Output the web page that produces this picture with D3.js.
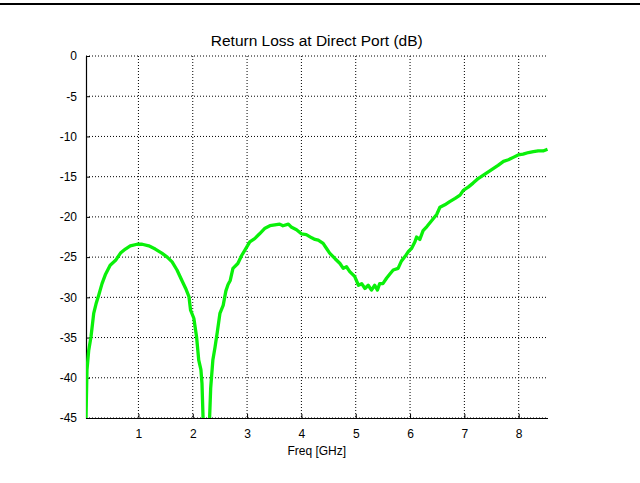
<!DOCTYPE html>
<html>
<head>
<meta charset="utf-8">
<script src="https://cdn.jsdelivr.net/npm/d3@7"></script>
<style>
  html, body { margin: 0; padding: 0; background: #fff; }
  svg { display: block; font-family: "Liberation Sans", Arial, sans-serif; }
</style>
</head>
<body>
<div id="chart"></div>
<script>
var freqGHz = [0.035, 0.053, 0.085, 0.127, 0.177, 0.22, 0.27, 0.33, 0.39, 0.48, 0.58, 0.67, 0.76, 0.85, 0.975,
  1.07, 1.19, 1.31, 1.43, 1.53, 1.62, 1.71, 1.80, 1.87, 1.93, 1.96, 2.02, 2.07, 2.11, 2.15, 2.17, 2.19,
  2.195, 2.25, 2.305,
  2.31, 2.33, 2.37, 2.41, 2.45, 2.50, 2.56, 2.61, 2.65, 2.69, 2.74, 2.83, 2.90, 2.99,
  3.05, 3.14, 3.23, 3.33, 3.42, 3.51, 3.60, 3.66, 3.76, 3.82, 3.91, 4.00, 4.09, 4.19, 4.25, 4.31,
  4.40, 4.46, 4.52, 4.62, 4.71, 4.77, 4.83, 4.89, 4.98, 5.05, 5.11, 5.17, 5.23, 5.29, 5.35, 5.40,
  5.44, 5.50, 5.57, 5.64, 5.69, 5.78, 5.84, 5.91, 5.97, 6.03, 6.09, 6.12, 6.18, 6.24, 6.31, 6.37,
  6.43, 6.49, 6.55, 6.64, 6.73, 6.83, 6.92, 6.98, 7.07, 7.16, 7.26, 7.35, 7.44, 7.53, 7.62, 7.72,
  7.81, 7.90, 7.99, 8.08, 8.18, 8.27, 8.36, 8.45, 8.53];
var returnLossDb = [-45, -39.0, -36.6, -34.9, -32.0, -30.8, -29.7, -28.3, -27.2, -26.0, -25.4, -24.5, -24.0, -23.6, -23.4,
  -23.4, -23.6, -24.0, -24.5, -25.0, -25.6, -26.6, -27.9, -28.9, -29.9, -31.6, -32.6, -34.9, -37.8, -39.0, -40.7, -45,
  -46.5, -58, -46.5,
  -45, -41.3, -37.8, -36.2, -34.4, -32.0, -31.0, -29.2, -28.4, -27.9, -26.4, -25.8, -24.8, -23.8,
  -23.1, -22.7, -22.1, -21.4, -21.1, -21.0, -20.9, -21.1, -20.9, -21.3, -21.6, -22.1, -22.2, -22.6, -22.8, -22.9,
  -23.3, -23.9, -24.5, -25.2, -25.8, -26.4, -26.2, -26.8, -27.4, -28.5, -28.3, -28.9, -28.5, -29.1, -28.5, -29.1,
  -28.3, -28.3, -27.6, -27.0, -26.6, -26.4, -25.5, -24.9, -24.3, -23.9, -23.1, -22.5, -22.8, -21.7, -21.2, -20.7,
  -20.2, -19.7, -18.8, -18.5, -18.1, -17.7, -17.3, -16.7, -16.3, -15.8, -15.2, -14.8, -14.4, -14.0, -13.6, -13.1,
  -12.9, -12.6, -12.3, -12.2, -12.0, -11.9, -11.8, -11.8, -11.6];
var xTicks = [1, 2, 3, 4, 5, 6, 7, 8];
var yTicks = [0, -5, -10, -15, -20, -25, -30, -35, -40, -45];
var xDomain = [0.035, 8.53];
var yDomain = [-45, 0];

var width = 640, height = 483;
// axes box in pixels (note: "top" is reserved on window, so prefix these)
var axLeft = 86, axRight = 547.5, axTop = 56, axBottom = 418;

var svg = d3.select("#chart").append("svg")
  .attr("width", width).attr("height", height);

// black rule at the very top of the figure window
svg.append("rect").attr("x", 0).attr("y", 3).attr("width", width).attr("height", 2).attr("fill", "#000");

var x = d3.scaleLinear().domain(xDomain).range([axLeft, axRight]);
var y = d3.scaleLinear().domain(yDomain).range([axBottom, axTop]);

// dotted grid
svg.append("g")
  .selectAll("line").data(xTicks).enter().append("line")
  .attr("x1", function(d) { return x(d); }).attr("x2", function(d) { return x(d); })
  .attr("y1", axTop).attr("y2", axBottom)
  .attr("stroke", "#000").attr("stroke-width", 1).attr("stroke-dasharray", "1,2");
svg.append("g")
  .selectAll("line").data(yTicks).enter().append("line")
  .attr("x1", axLeft).attr("x2", axRight)
  .attr("y1", function(d) { return y(d); }).attr("y2", function(d) { return y(d); })
  .attr("stroke", "#000").attr("stroke-width", 1).attr("stroke-dasharray", "1,2");

// axes -- plain hyphen minus like the original, not d3's unicode minus
var plainFmt = function(d) { return String(d); };
var xAxis = svg.append("g")
  .attr("transform", "translate(0," + axBottom + ")")
  .call(d3.axisBottom(x).tickValues(xTicks).tickSizeInner(-4).tickSizeOuter(0).tickPadding(11).tickFormat(plainFmt));
var yAxis = svg.append("g")
  .attr("transform", "translate(" + axLeft + ",0)")
  .call(d3.axisLeft(y).tickValues(yTicks).tickSizeInner(-4).tickSizeOuter(0).tickPadding(9).tickFormat(plainFmt));
[xAxis, yAxis].forEach(function(a) {
  a.select(".domain").attr("stroke", "#000").attr("stroke-width", 1.2);
  a.selectAll(".tick line").attr("stroke", "#000");
  a.selectAll(".tick text").attr("fill", "#000").style("font-size", "12px")
    .style("font-family", "'Liberation Sans', Arial, sans-serif");
});

// curve, clipped to the axes box
svg.append("clipPath").attr("id", "plotclip")
  .append("rect").attr("x", axLeft).attr("y", axTop - 2).attr("width", axRight - axLeft + 2).attr("height", axBottom - axTop + 2);

var pts = freqGHz.map(function(f, i) { return [f, returnLossDb[i]]; });
var line = d3.line()
  .x(function(d) { return x(d[0]); })
  .y(function(d) { return y(d[1]); });

svg.append("path")
  .datum(pts)
  .attr("clip-path", "url(#plotclip)")
  .attr("d", line)
  .attr("fill", "none")
  .attr("stroke", "#0af00a")
  .attr("stroke-width", 3.3)
  .attr("stroke-linejoin", "round");

// labels
svg.append("text").attr("x", (axLeft + axRight) / 2).attr("y", 46)
  .attr("text-anchor", "middle").style("font-size", "15.5px").text("Return Loss at Direct Port (dB)");
svg.append("text").attr("x", (axLeft + axRight) / 2).attr("y", 455)
  .attr("text-anchor", "middle").style("font-size", "12px").text("Freq [GHz]");
</script>
</body>
</html>
